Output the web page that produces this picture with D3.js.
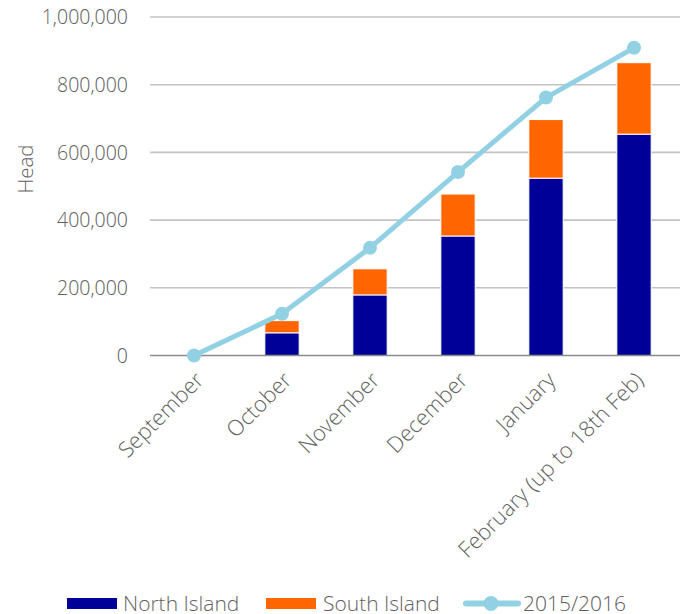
<!DOCTYPE html>
<html>
<head>
<meta charset="utf-8">
<script src="https://cdn.jsdelivr.net/npm/d3@7/dist/d3.min.js"></script>
<style>
  html, body { margin: 0; padding: 0; background: #fff; }
  svg text { font-family: "Open Sans Light", "Noto Sans Light", "Open Sans", "Noto Sans", sans-serif; font-weight: 300; fill: #626262; }
</style>
</head>
<body>
<svg id="chart" width="680" height="614"></svg>
<script>
const categories = ["September", "October", "November", "December", "January", "February (up to 18th Feb)"];
const northIsland = [0, 67000, 179000, 353000, 524000, 654000];
const southIsland = [0, 36000, 77000, 124000, 173000, 211000];
const season2015 = [0, 123000, 318000, 542000, 762000, 909000];
const yTicks = [0, 200000, 400000, 600000, 800000, 1000000];

const colors = { north: "#000099", south: "#ff6600", line: "#92d1e4" };

const svg = d3.select("#chart");
const plotLeft = 150, plotRight = 678, plotTop = 17, plotBottom = 355.5;

const x = d3.scaleBand().domain(categories).range([plotLeft, plotRight]).paddingInner(0.61).paddingOuter(0.305);
const y = d3.scaleLinear().domain([0, 1000000]).range([plotBottom, plotTop]);
const fmt = d3.format(",");

// y labels
const yAxis = d3.axisLeft(y).tickValues(yTicks).tickSize(0).tickPadding(22).tickFormat(fmt);
const gy = svg.append("g").attr("transform", `translate(${plotLeft},0)`).call(yAxis);
gy.select(".domain").remove();
gy.selectAll("text").style("font-size", "19.5px").attr("dy", "0.34em");

// gridlines
svg.append("g").selectAll("line").data(yTicks.filter(d => d > 0)).join("line")
  .attr("x1", plotLeft).attr("x2", 680)
  .attr("y1", d => y(d)).attr("y2", d => y(d))
  .attr("stroke", "#c3c3c3").attr("stroke-width", 1.6);

// axis title
svg.append("text").attr("transform", "translate(33,169) rotate(-90)")
  .attr("text-anchor", "middle").style("font-size", "20.5px").text("Head");

// stacked bars
const stacked = categories.map((c, i) => ({ c, n: northIsland[i], s: southIsland[i] }));
const barG = svg.append("g");
barG.selectAll("rect.n").data(stacked.filter(d => d.n > 0)).join("rect")
  .attr("x", d => x(d.c)).attr("width", x.bandwidth())
  .attr("y", d => y(d.n)).attr("height", d => y(0) - y(d.n))
  .attr("fill", colors.north).attr("stroke", "#fff").attr("stroke-width", 1);
barG.selectAll("rect.s").data(stacked.filter(d => d.s > 0)).join("rect")
  .attr("x", d => x(d.c)).attr("width", x.bandwidth())
  .attr("y", d => y(d.n + d.s)).attr("height", d => y(d.n) - y(d.n + d.s))
  .attr("fill", colors.south).attr("stroke", "#fff").attr("stroke-width", 1);

// baseline
svg.append("line").attr("x1", plotLeft).attr("x2", 680).attr("y1", y(0)).attr("y2", y(0))
  .attr("stroke", "#8c8c8c").attr("stroke-width", 1.6);

// x labels, rotated
const xAxis = d3.axisBottom(x).tickSize(0).tickPadding(0);
const gx = svg.append("g").attr("transform", `translate(0,${plotBottom})`).call(xAxis);
gx.select(".domain").remove();
gx.selectAll("text").style("font-size", "22px")
  .attr("text-anchor", "end")
  .attr("transform", "translate(11,26) rotate(-45)")
  .attr("dy", "0").attr("dx", "0").attr("y", 0);

// line series
const cx = c => x(c) + x.bandwidth() / 2;
const pts = categories.map((c, i) => [cx(c), y(season2015[i])]);
svg.append("path").attr("d", d3.line()(pts)).attr("fill", "none")
  .attr("stroke", colors.line).attr("stroke-width", 5).attr("stroke-linejoin", "round");
svg.append("g").selectAll("circle").data(pts).join("circle")
  .attr("cx", d => d[0]).attr("cy", d => d[1]).attr("r", 7).attr("fill", colors.line);

// legend
const lg = svg.append("g");
const legY = 603.5;
lg.append("rect").attr("x", 67).attr("y", legY - 5.5).attr("width", 50).attr("height", 11).attr("fill", colors.north);
lg.append("text").attr("x", 123).attr("y", legY).attr("dy", "0.36em").style("font-size", "21px").text("North Island");
lg.append("rect").attr("x", 266).attr("y", legY - 5.5).attr("width", 50).attr("height", 11).attr("fill", colors.south);
lg.append("text").attr("x", 323).attr("y", legY).attr("dy", "0.36em").style("font-size", "21px").text("South Island");
lg.append("line").attr("x1", 466).attr("x2", 518).attr("y1", legY).attr("y2", legY)
  .attr("stroke", colors.line).attr("stroke-width", 6).attr("stroke-linecap", "round");
lg.append("circle").attr("cx", 491).attr("cy", legY).attr("r", 7.5).attr("fill", colors.line);
lg.append("text").attr("x", 523).attr("y", legY).attr("dy", "0.36em").style("font-size", "21px").text("2015/2016");
</script>
</body>
</html>
